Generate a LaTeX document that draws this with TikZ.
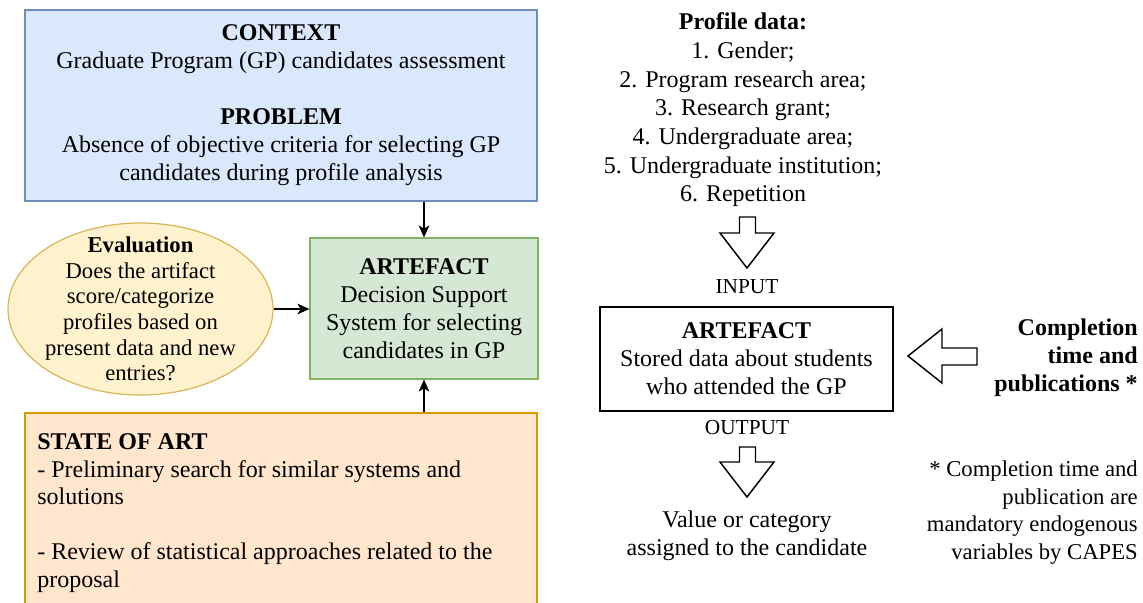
\documentclass[tikz,border=0pt]{standalone}
\usepackage{fontspec}
\setmainfont{Liberation Serif}
\usetikzlibrary{arrows.meta,shapes.geometric}
\definecolor{bluefill}{HTML}{DAE8FC}
\definecolor{bluedraw}{HTML}{6C8EBF}
\definecolor{greenfill}{HTML}{D5E8D4}
\definecolor{greendraw}{HTML}{82B366}
\definecolor{yellowfill}{HTML}{FFF2CC}
\definecolor{yellowdraw}{HTML}{D6B656}
\definecolor{orangefill}{HTML}{FFE6CC}
\definecolor{orangedraw}{HTML}{D79B00}
\tikzset{
  boxstyle/.style={draw, line width=0.9pt, inner sep=0pt, align=center},
  bigtext/.style={font=\fontsize{18}{21}\selectfont},
  conn/.style={line width=0.9pt, -{Stealth[length=9pt,width=8pt,inset=2.5pt]}},
  blockarrow/.style={draw, line width=1.1pt, fill=white, line join=miter},
}
\begin{document}
\begin{tikzpicture}[x=0.75pt,y=-0.75pt]
\useasboundingbox (0,0) rectangle (1143,603);
\clip (0,0) rectangle (1143,603);
\fill[white] (0,0) rectangle (1143,603);

% Left part
\node[boxstyle, bigtext, fill=bluefill, draw=bluedraw, minimum width=384pt, minimum height=143.25pt] (blue) at (281,105.5)
  {\textbf{CONTEXT}\\Graduate Program (GP) candidates assessment\\[21pt]\textbf{PROBLEM}\\Absence of objective criteria for selecting GP\\candidates during profile analysis};

\node[boxstyle, bigtext, fill=greenfill, draw=greendraw, minimum width=171pt, minimum height=105.75pt] (green) at (424,308.5)
  {\textbf{ARTEFACT}\\Decision Support\\System for selecting\\candidates in GP};

\node[draw, line width=0.9pt, ellipse, inner sep=0pt, fill=yellowfill, draw=yellowdraw, minimum width=198.75pt, minimum height=129pt] (eval) at (140.5,309) {};
\node[align=center, inner sep=0pt, font=\fontsize{17}{19.2}\selectfont] (evaltext) at (eval.center)
  {\textbf{Evaluation}\\Does the artifact\\score/categorize\\profiles based on\\present data and new\\entries?};

\node[boxstyle, fill=orangefill, draw=orangedraw, minimum width=384pt, minimum height=170.25pt] (orange) at (281,526.5) {};
\node[anchor=west, align=left, inner sep=0pt, font=\fontsize{18}{20.6}\selectfont] (sota) at (37,513)
  {\textbf{STATE OF ART}\\- Preliminary search for similar systems and\\solutions\\[20.6pt]- Review of statistical approaches related to the\\proposal};

\draw[conn] (blue.south -| green.north) -- (green.north);
\draw[conn] (orange.north -| green.south) -- (green.south);
\draw[conn] (eval.east) -- (eval.east -| green.west);

% Right part
\node[align=center, inner sep=0pt, font=\fontsize{18}{21.5}\selectfont] (profile) at (743,110)
  {\textbf{Profile data:}\\1. Gender;\\2. Program research area;\\3. Research grant;\\4. Undergraduate area;\\5. Undergraduate institution;\\6. Repetition};

\draw[blockarrow] (739.5,217) -- (755.5,217) -- (755.5,233) -- (774,233) -- (747,268) -- (720,233) -- (739.5,233) -- cycle;

\node[inner sep=0pt, font=\fontsize{16}{19}\selectfont] (input) at (747,287) {INPUT};

\node[draw, line width=1.3pt, inner sep=0pt, align=center, bigtext, minimum width=219.75pt, minimum height=78pt] (store) at (746.5,359)
  {\textbf{ARTEFACT}\\Stored data about students\\who attended the GP};

\node[inner sep=0pt, font=\fontsize{16}{19}\selectfont] (output) at (747,428) {OUTPUT};

\draw[blockarrow] (739.5,447) -- (755.5,447) -- (755.5,462) -- (774,462) -- (747,497) -- (720,462) -- (739.5,462) -- cycle;

\node[align=center, inner sep=0pt, bigtext] (value) at (747,535.5)
  {Value or category\\assigned to the candidate};

\draw[blockarrow] (977,348) -- (942,348) -- (942,329) -- (908,356) -- (942,383) -- (942,365) -- (977,365) -- cycle;

\node[anchor=east, align=right, inner sep=0pt, font=\fontsize{18}{21}\selectfont\bfseries] (compl) at (1138,358)
  {Completion\\time and\\publications *};

\node[anchor=east, align=right, inner sep=0pt, font=\fontsize{17}{20.8}\selectfont] (note) at (1138,512.5)
  {* Completion time and\\publication are\\mandatory endogenous\\variables by CAPES};
\end{tikzpicture}
\end{document}
